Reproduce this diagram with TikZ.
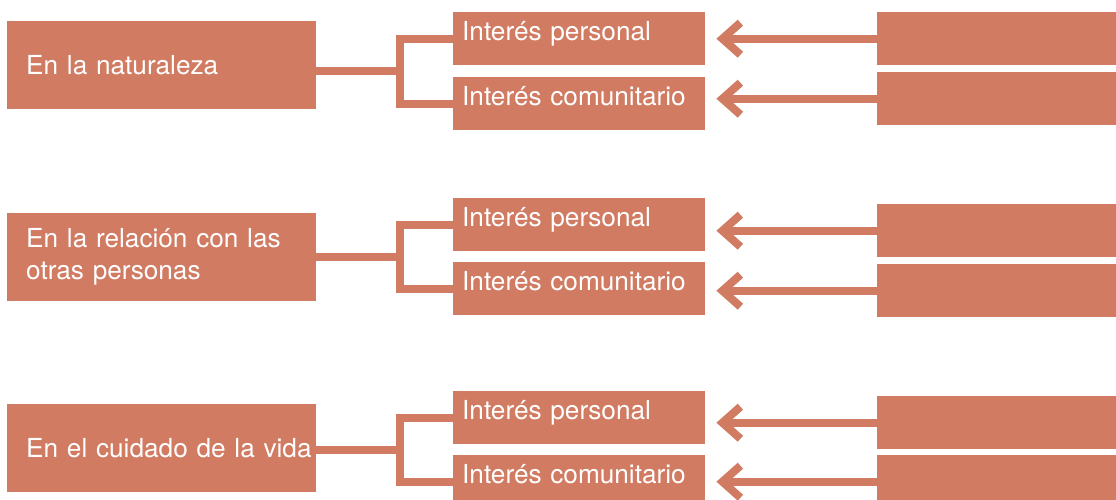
\documentclass[tikz,border=0pt]{standalone}
\usepackage{fontspec}
\setmainfont[WordSpace=0.8]{TeX Gyre Heros}
\usepackage{xcolor}
\usepackage{tikz}
\usetikzlibrary{arrows.meta,calc}
\definecolor{terra}{HTML}{D17B62}

\begin{document}
\begin{tikzpicture}[x=1pt, y=-1pt,
    font=\fontsize{26.2}{32}\selectfont,
    leftbox/.style={fill=terra, text=white, anchor=north west, minimum width=309pt, minimum height=88pt, text width=271pt, inner xsep=19pt, inner ysep=0pt, align=left},
    midbox/.style={fill=terra, text=white, anchor=north west, text width=234pt, inner xsep=9pt, inner ysep=0pt, text height=28pt, text depth=25pt, align=left},
    rightbox/.style={fill=terra, anchor=north west, minimum width=240pt, minimum height=53pt, inner sep=0pt},
    link/.style={draw=terra, line width=8pt},
    back/.style={draw=terra, line width=8pt, -{Straight Barb[length=18pt, width=32pt]}, shorten >=11pt}]
  \useasboundingbox (0,0) rectangle (1116,499);

  \node[leftbox] (l1) at (7,21) {En la naturaleza};
  \node[midbox] (m11) at (453,12) {Interés personal};
  \node[midbox] (m12) at (453,77) {Interés comunitario};
  \node[rightbox] (r11) at (877,12) {};
  \node[rightbox] (r12) at (877,72) {};

  \node[leftbox] (l2) at (7,213) {En la relación con las\\otras personas};
  \node[midbox] (m21) at (453,198) {Interés personal};
  \node[midbox] (m22) at (453,262) {Interés comunitario};
  \node[rightbox] (r21) at (877,204) {};
  \node[rightbox] (r22) at (877,264) {};

  \node[leftbox] (l3) at (7,404) {\mbox{En el cuidado de la vida}};
  \node[midbox] (m31) at (453,391) {Interés personal};
  \node[midbox] (m32) at (453,455) {Interés comunitario};
  \node[rightbox] (r31) at (877,396) {};
  \node[rightbox] (r32) at (877,455) {};

  \foreach \row in {1,2,3} {
    \coordinate (j\row) at ($($(m\row1.west)!.5!(m\row2.west)$)+(-53,0)$);
    \draw[link] (m\row1.west) -- ++(-53,0) |- (m\row2.west);
    \draw[link] (l\row.east |- j\row) -- (j\row);
    \draw[back] (r\row1.west) -- (r\row1.west -| m\row1.east);
    \draw[back] (r\row2.west) -- (r\row2.west -| m\row2.east);
  }
\end{tikzpicture}
\end{document}
